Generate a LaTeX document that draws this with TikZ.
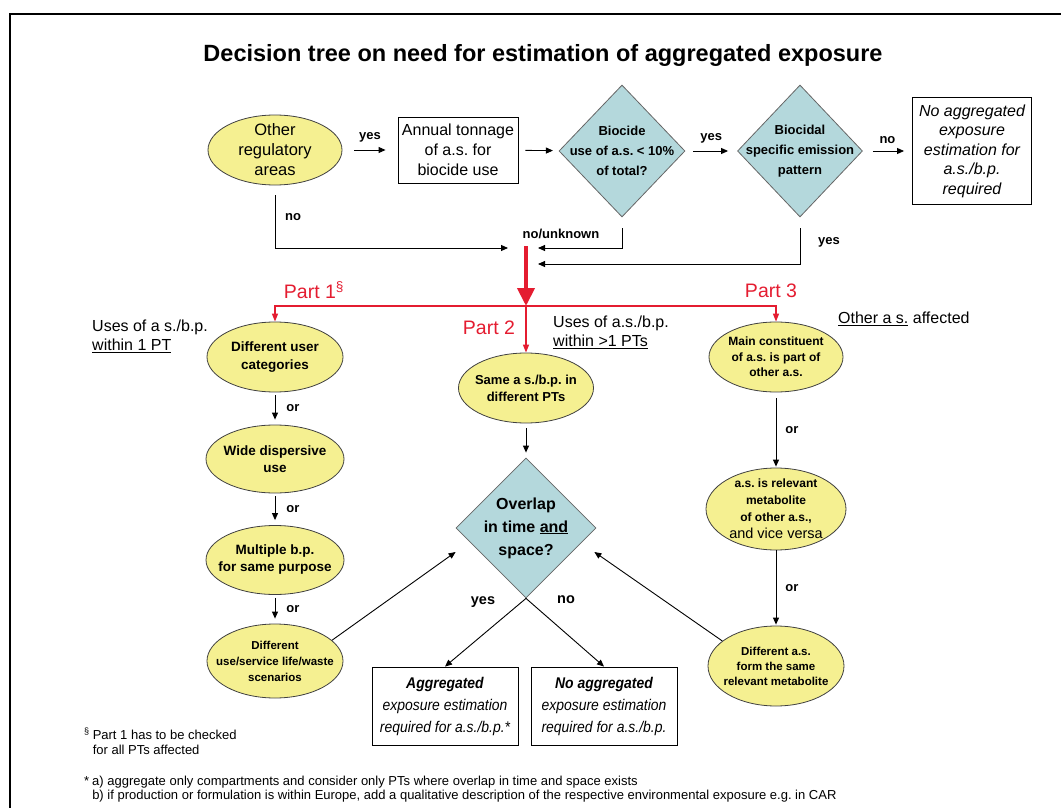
\documentclass[tikz,border=0pt]{standalone}
\usepackage{fontspec}
\setmainfont{Liberation Sans}
\newfontfamily\narrowfont[FakeStretch=0.9]{Liberation Sans}
\usetikzlibrary{calc, arrows.meta, shapes}
\frenchspacing

\definecolor{ellyellow}{RGB}{245,240,145}
\definecolor{diablue}{RGB}{180,216,220}
\definecolor{partred}{RGB}{228,28,48}

\begin{document}
\begin{tikzpicture}[x=1pt, y=-1pt,
	ell/.style={ellipse, draw=black!75, fill=ellyellow, inner sep=0pt, line width=0.8pt},
	dia/.style={diamond, draw=black!60, fill=diablue, inner sep=0pt, line width=0.8pt},
	box/.style={rectangle, draw, line width=0.9pt, inner sep=0pt, align=center},
	txt/.style={align=center, inner sep=0pt},
	arr/.style={-{Triangle[length=7pt,width=6pt]}, line width=0.9pt},
	redarr/.style={draw=partred, line width=1.4pt, -{Triangle[length=8pt,width=6pt]}},
	lbl/.style={font=\fontsize{13}{15}\selectfont\bfseries, inner sep=1pt},
	part/.style={font=\fontsize{19.5}{21}\selectfont, text=partred, inner sep=1pt},
	uses/.style={anchor=west, align=left, font=\fontsize{16}{19}\selectfont, inner sep=0pt},
	]
	\useasboundingbox (0,0) rectangle (1061,808);
	\draw[line width=2.5pt] (10,808) -- (10,14) -- (1061,14);
	
	\node[font=\fontsize{23.5}{26}\selectfont\bfseries] (title) at (543,55) {Decision tree on need for estimation of aggregated exposure};
	
	% top row
	\node[ell, minimum width=134pt, minimum height=70pt] (oth) at (275,150) {};
	\node[txt, font=\fontsize{16.5}{20}\selectfont] (otht) at (oth) {Other\\regulatory\\areas};
	\node[box, minimum width=120pt, minimum height=66pt, font=\fontsize{16}{20}\selectfont] (ann) at (458,150) {Annual tonnage\\of a.s. for\\biocide use};
	\node[dia, minimum width=126pt, minimum height=132pt] (bio) at (622,151) {};
	\node[txt, font=\fontsize{13}{20}\selectfont\bfseries] (biot) at (bio) {Biocide\\use of a.s. < 10\%\\of total?};
	\node[dia, minimum width=125pt, minimum height=132pt] (emi) at (800,151) {};
	\node[txt, font=\fontsize{13}{20}\selectfont\bfseries] (emit) at (emi) {Biocidal\\specific emission\\pattern};
	\node[box, minimum width=119pt, minimum height=107pt, font=\fontsize{16}{19.5}\selectfont\itshape] (none) at (972,151) {No aggregated\\exposure\\estimation for\\a.s./b.p.\\required};
	
	\draw[arr, shorten <=12pt, shorten >=12pt] (oth) -- (ann) node[lbl, midway, above=6pt] (y1) {yes};
	\draw[arr, shorten <=7pt, shorten >=6pt] (ann) -- (bio);
	\draw[arr, shorten <=8pt, shorten >=9pt] (bio) -- (emi) node[lbl, midway, above=6pt] (y2) {yes};
	\draw[arr, shorten <=10pt, shorten >=8pt] (emi) -- (none) node[lbl, midway, above=6pt] (n1) {no};
	
	% merging into the red arrow
	\coordinate (inL) at (508,248);
	\coordinate (inR) at (538,248);
	\coordinate (inR2) at (538,264);
	\draw[arr] ([yshift=-10pt]oth.south) |- (inL);
	\draw[arr] ([yshift=-11pt]bio.south) |- (inR);
	\draw[arr] ([yshift=-11pt]emi.south) |- (inR2);
	\node[lbl] (n0) at (293,217) {no};
	\node[lbl] (nu) at (561,234) {no/unknown};
	\node[lbl] (y3) at (829,242) {yes};
	
	% part 1
	\node[ell, minimum width=136pt, minimum height=70pt] (u1) at (275,357) {};
	\node[txt, font=\fontsize{13.5}{18}\selectfont\bfseries] (u1t) at (u1) {Different user\\categories};
	\node[ell, minimum width=138pt, minimum height=68pt] (u2) at (275,459) {};
	\node[txt, font=\fontsize{13.5}{17}\selectfont\bfseries] (u2t) at (u2) {Wide dispersive\\use};
	\node[ell, minimum width=138pt, minimum height=69pt] (u3) at (275,560) {};
	\node[txt, font=\fontsize{13.5}{17}\selectfont\bfseries] (u3t) at (u3) {Multiple b.p.\\for same purpose};
	\node[ell, minimum width=136pt, minimum height=74pt] (u4) at (275,661) {};
	\node[txt, font=\fontsize{11.5}{16}\selectfont\bfseries] (u4t) at (u4) {Different\\use/service life/waste\\scenarios};
	\draw[arr, shorten <=3pt, shorten >=5pt] (u1) -- (u2) node[lbl, midway, right=10pt] (or1) {or};
	\draw[arr, shorten <=3pt, shorten >=5pt] (u2) -- (u3) node[lbl, midway, right=10pt] (or2) {or};
	\draw[arr, shorten <=3pt, shorten >=5pt] (u3) -- (u4) node[lbl, midway, right=10pt] (or3) {or};
	
	% part 2
	\node[ell, minimum width=135pt, minimum height=70pt] (s1) at (526,388) {};
	\node[txt, font=\fontsize{13}{17}\selectfont\bfseries] (s1t) at (s1) {Same a s./b.p. in\\different PTs};
	\node[dia, minimum width=140pt, minimum height=140pt] (ovl) at (526,528) {};
	\node[txt, font=\fontsize{16}{23}\selectfont\bfseries] (ovlt) at (ovl) {Overlap\\in time \underline{and}\\space?};
	\draw[arr, shorten <=5pt, shorten >=5pt] (s1) -- (ovl);
	\node[box, minimum width=146pt, minimum height=78pt, font=\fontsize{15.5}{22}\selectfont\narrowfont\itshape] (agg) at (445,706) {\textbf{Aggregated}\\exposure estimation\\required for a.s./b.p.*};
	\node[box, minimum width=146pt, minimum height=78pt, font=\fontsize{15.5}{22}\selectfont\narrowfont\itshape] (noagg) at (604,706) {\textbf{No aggregated}\\exposure estimation\\required for a.s./b.p.};
	\draw[arr] (ovl.south) -- (agg.north);
	\draw[arr] (ovl.south) -- (noagg.north);
	\node[lbl, font=\fontsize{14.5}{16}\selectfont\bfseries] (y4) at (483,602) {yes};
	\node[lbl, font=\fontsize{14.5}{16}\selectfont\bfseries] (n4) at (566,600) {no};
	
	% part 3
	\node[ell, minimum width=134pt, minimum height=70pt] (m1) at (776,357) {};
	\node[txt, font=\fontsize{12}{15.5}\selectfont\bfseries] (m1t) at (m1) {Main constituent\\of a.s. is part of\\other a.s.};
	\node[ell, minimum width=140pt, minimum height=82pt] (m2) at (776,509) {};
	\node[txt, font=\fontsize{12}{17}\selectfont\bfseries] (m2t) at (m2) {a.s. is relevant\\metabolite\\of other a.s.,\\{\mdseries\fontsize{14.5}{17}\selectfont and vice versa}};
	\node[ell, minimum width=136pt, minimum height=80pt] (m3) at (776,666) {};
	\node[txt, font=\fontsize{11.5}{15}\selectfont\bfseries] (m3t) at (m3) {Different a.s.\\form the same\\relevant metabolite};
	\draw[arr, shorten <=6pt, shorten >=1pt] (m1) -- (m2) node[lbl, midway, right=8pt] (or4) {or};
	\draw[arr, shorten >=1pt] (m2) -- (m3) node[lbl, midway, right=8pt] (or5) {or};
	
	\draw[arr] (u4.20) -- ($(ovl.west)+(0,24)$);
	\draw[arr] (m3.155) -- ($(ovl.east)+(-2,24)$);
	
	% red split
	\coordinate (redtop) at (526,246);
	\coordinate (split) at (526,306);
	\draw[partred, line width=4pt, -{Triangle[length=18pt,width=17pt]}] (redtop) -- (split);
	\draw[redarr] (split) -| (u1.north);
	\draw[redarr] (split) -| (m1.north);
	\draw[redarr] (split) -- (s1.north);
	\node[part] (part1) at (314,290) {Part 1\textsuperscript{§}};
	\node[part] (part2) at (489,328) {Part 2};
	\node[part] (part3) at (771,291) {Part 3};
	
	\node[uses] (use1) at (92,336) {Uses of a s./b.p.\\\underline{within 1 PT}};
	\node[uses] (use2) at (553,332) {Uses of a.s./b.p.\\\underline{within >1 PTs}};
	\node[uses] (use3) at (838,319) {\underline{Other a s.} affected};
	
	% footnotes
	\node[anchor=north west, inner sep=0pt, font=\fontsize{13}{15}\selectfont] (fn1) at (84,728) {\begin{tabular}{@{}l@{\hspace{3pt}}l@{}}\textsuperscript{§} & Part 1 has to be checked\\ & for all PTs affected\end{tabular}};
	\node[anchor=north west, inner sep=0pt, font=\fontsize{13}{14.5}\selectfont] (fn2) at (84,775) {\begin{tabular}{@{}l@{\hspace{3pt}}l@{}}* & a) aggregate only compartments and consider only PTs where overlap in time and space exists\\ & b) if production or formulation is within Europe, add a qualitative description of the respective environmental exposure e.g. in CAR\end{tabular}};
\end{tikzpicture}
\end{document}
